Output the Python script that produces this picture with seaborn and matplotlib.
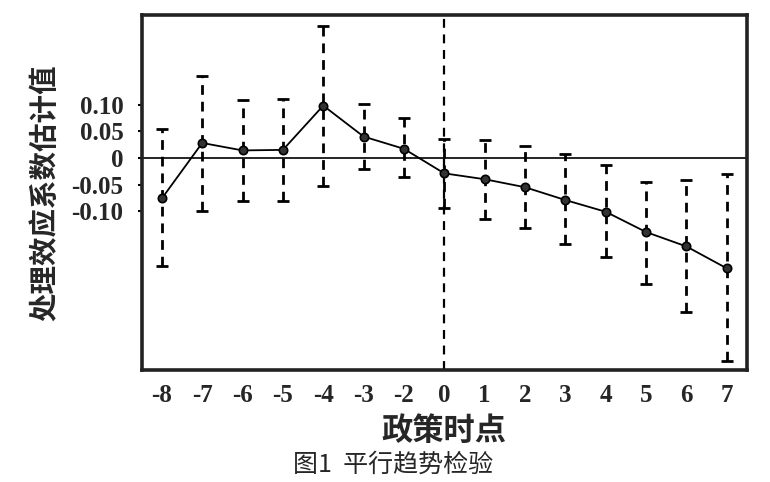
import numpy as np
import pandas as pd
import matplotlib
matplotlib.use("Agg")
import matplotlib.pyplot as plt
import seaborn as sns

# policy time points (no -1, it is the base period)
periods = ["-8", "-7", "-6", "-5", "-4", "-3", "-2", "0", "1", "2", "3", "4", "5", "6", "7"]
coef = [-0.076, 0.028, 0.014, 0.015, 0.098, 0.040, 0.017, -0.029, -0.040, -0.055,
        -0.079, -0.101, -0.139, -0.166, -0.207]
ci_upper = [0.054, 0.154, 0.109, 0.110, 0.248, 0.101, 0.074, 0.035, 0.034, 0.023,
            0.007, -0.014, -0.046, -0.041, -0.030]
ci_lower = [-0.202, -0.099, -0.080, -0.081, -0.053, -0.021, -0.036, -0.094, -0.115, -0.132,
            -0.162, -0.186, -0.236, -0.289, -0.381]
yticks = [0.10, 0.05, 0, -0.05, -0.10]
ytick_labels = ["0.10", "0.05", "0", "-0.05", "-0.10"]

sns.set_style("white")
plt.rcParams['font.family'] = ['Liberation Serif', 'Noto Sans CJK SC', 'DejaVu Sans']
cjk = ['Noto Sans CJK SC', 'DejaVu Sans']

df = pd.DataFrame({'pos': np.arange(len(periods)), 'coef': coef,
                   'lo': ci_lower, 'hi': ci_upper})

fig = plt.figure(figsize=(7.7, 4.82), dpi=100)
ax = fig.add_axes([0.184, 0.232, 0.786, 0.737])

# reference lines
ax.axhline(0, color='black', linewidth=1.2, zorder=1)
zero_idx = periods.index("0")
ax.axvline(zero_idx, color='black', linestyle=(0, (4, 3)), linewidth=1.6, zorder=1)

# dashed error bars
yerr = np.array([df['coef'] - df['lo'], df['hi'] - df['coef']])
eb = ax.errorbar(df['pos'], df['coef'], yerr=yerr, fmt='none', ecolor='black',
                 elinewidth=2.0, capsize=4, capthick=2.0, zorder=2)
for lc in eb[2]:
    lc.set_linestyle((0, (3.5, 2.5)))

# point estimates
sns.lineplot(data=df, x='pos', y='coef', ax=ax, color='black', linewidth=1.3,
             marker='o', markersize=6, markerfacecolor='#333333',
             markeredgecolor='black', markeredgewidth=1.2, zorder=3)

ax.set_xlim(-0.5, len(periods) - 0.5)
ax.set_ylim(-0.398, 0.268)
ax.set_xticks(df['pos'])
ax.set_xticklabels(periods, fontsize=18, fontweight='bold')
ax.set_yticks(yticks)
ax.set_yticklabels(ytick_labels, fontsize=18, fontweight='bold')
ax.tick_params(axis='x', direction='in', length=5, width=2, pad=10, color='black')
ax.tick_params(axis='y', direction='out', length=3, width=1.5, pad=10, color='black', left=True)

for sp in ax.spines.values():
    sp.set_visible(True)
    sp.set_linewidth(2.6)
    sp.set_color('#222222')

ax.set_xlabel('政策时点', fontsize=22.5, fontweight='bold', family=cjk, labelpad=6)
ax.set_ylabel('处理效应系数估计值', fontsize=20.5, fontweight='bold', family=cjk)
ax.yaxis.set_label_coords(-0.136, 0.5)

fig.text(0.51, 0.036, '图1  平行趋势检验', fontsize=18, ha='center', va='center', family=cjk)

fig.savefig('out.png', dpi=100)
